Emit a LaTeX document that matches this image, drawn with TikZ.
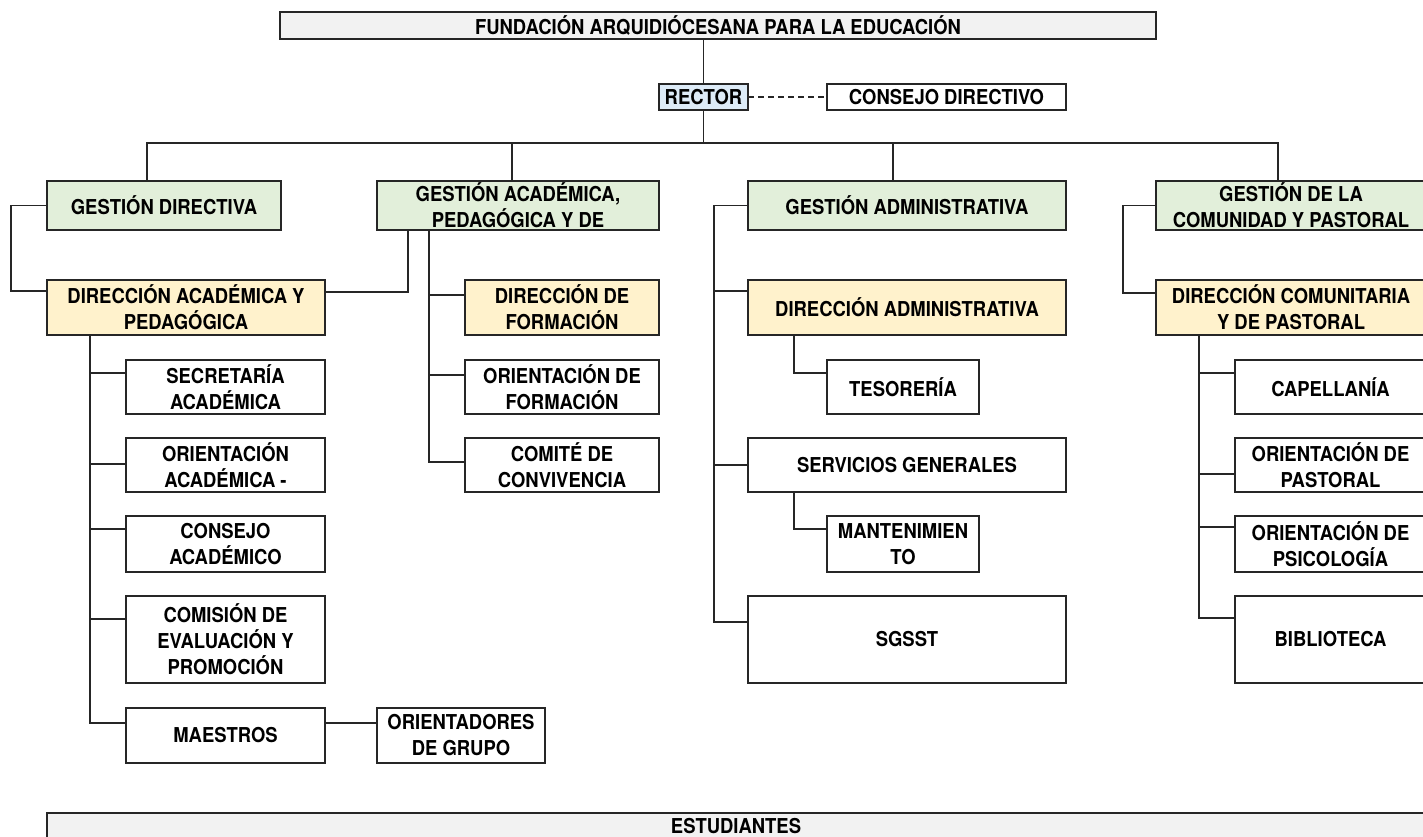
\documentclass[tikz,border=0pt]{standalone}
\usepackage{fontspec}
\setmainfont{TeX Gyre Heros}[FakeStretch=0.9]
\usepackage{xcolor}
\usepackage{tikz}
\usetikzlibrary{positioning}

\definecolor{borde}{HTML}{262626}
\definecolor{gris}{HTML}{F2F2F2}
\definecolor{azul}{HTML}{DDEBF7}
\definecolor{verde}{HTML}{E2EFDA}
\definecolor{amarillo}{HTML}{FFF2CC}

\begin{document}
\begin{tikzpicture}[
        x=1pt, y=-1pt,
        every node/.style={draw=borde, line width=1.3pt, fill=white, inner sep=0pt, outer sep=0pt,
            anchor=north west, align=center, font=\fontsize{20.5}{26}\selectfont\bfseries},
        caja/.style 2 args={minimum width=#1pt, minimum height=#2pt},
        linea/.style={draw=borde, line width=1.1pt}
    ]
    \useasboundingbox (0,0) rectangle (1423,836);
    \clip (0,0) rectangle (1423,836);

    % Cabecera
    \node[caja={876}{27}, fill=gris] (fund) at (280,12) {FUNDACIÓN ARQUIDIÓCESANA PARA LA EDUCACIÓN};
    \node[caja={89}{26}, fill=azul] (rector) at (659,84) {RECTOR};
    \node[caja={239}{26}] (consejo) at (827,84) {CONSEJO DIRECTIVO};

    % Gestiones
    \node[caja={234}{49}, fill=verde] (gd) at (47,181) {GESTIÓN DIRECTIVA};
    \node[caja={282}{49}, fill=verde] (gap) at (377,181) {GESTIÓN ACADÉMICA,\\PEDAGÓGICA Y DE};
    \node[caja={318}{49}, fill=verde] (ga) at (748,181) {GESTIÓN ADMINISTRATIVA};
    \node[caja={270}{49}, fill=verde] (gcp) at (1156,181) {GESTIÓN DE LA\\COMUNIDAD Y PASTORAL};

    % Direcciones
    \node[caja={278}{55}, fill=amarillo] (dap) at (47,280) {DIRECCIÓN ACADÉMICA Y\\PEDAGÓGICA};
    \node[caja={194}{55}, fill=amarillo] (df) at (465,280) {DIRECCIÓN DE\\FORMACIÓN};
    \node[caja={318}{55}, fill=amarillo] (da) at (748,280) {DIRECCIÓN ADMINISTRATIVA};
    \node[caja={270}{55}, fill=amarillo] (dcp) at (1156,280) {DIRECCIÓN COMUNITARIA\\Y DE PASTORAL};

    % Dependencias academicas
    \node[caja={199}{54}] (sa) at (126,360) {SECRETARÍA\\ACADÉMICA};
    \node[caja={199}{54}] (oa) at (126,438) {ORIENTACIÓN\\ACADÉMICA -};
    \node[caja={199}{56}] (ca) at (126,516) {CONSEJO\\ACADÉMICO};
    \node[caja={199}{87}] (cep) at (126,596) {COMISIÓN DE\\EVALUACIÓN Y\\PROMOCIÓN};
    \node[caja={199}{55}] (mae) at (126,708) {MAESTROS};
    \node[caja={168}{55}] (og) at (377,708) {ORIENTADORES\\DE GRUPO};

    % Dependencias de formacion
    \node[caja={194}{54}] (odf) at (465,360) {ORIENTACIÓN DE\\FORMACIÓN};
    \node[caja={194}{54}] (cc) at (465,438) {COMITÉ DE\\CONVIVENCIA};

    % Dependencias administrativas
    \node[caja={152}{54}] (tes) at (827,360) {TESORERÍA};
    \node[caja={318}{54}] (sg) at (748,438) {SERVICIOS GENERALES};
    \node[caja={152}{56}] (man) at (827,516) {MANTENIMIEN\\TO};
    \node[caja={318}{87}] (sgsst) at (748,596) {SGSST};

    % Dependencias de pastoral
    \node[caja={191}{54}] (cap) at (1235,360) {CAPELLANÍA};
    \node[caja={191}{54}] (op) at (1235,438) {ORIENTACIÓN DE\\PASTORAL};
    \node[caja={191}{56}] (ops) at (1235,516) {ORIENTACIÓN DE\\PSICOLOGÍA};
    \node[caja={191}{87}] (bib) at (1235,596) {BIBLIOTECA};

    % Base
    \node[caja={1378}{27}, fill=gris] (est) at (47,813) {ESTUDIANTES};

    % Lineas de mando
    \draw[linea] (rector.north) -- (rector.north |- fund.south);
    \draw[linea, dash pattern=on 6pt off 4pt] (rector.east) -- (consejo.west);
    \draw[linea] (rector.south) -- ++(0,33) coordinate (barra);
    \draw[linea] (barra) -| ([xshift=100pt]gd.north west);
    \draw[linea] (barra) -| ([xshift=135pt]gap.north west);
    \draw[linea] (barra) -| ([xshift=145pt]ga.north west);
    \draw[linea] (barra) -| ([xshift=122pt]gcp.north west);

    % Gestion directiva y academica
    \draw[linea] (gd.west) -- ++(-36,0) |- ([yshift=-11pt]dap.north west);
    \draw[linea] ([xshift=31pt]gap.south west) |- ([yshift=-12pt]dap.north east);
    \draw[linea] ([xshift=52pt]gap.south west) |- ([yshift=-15pt]df.north west);
    \draw[linea] ([xshift=52pt]gap.south west) |- ([yshift=-15pt]odf.north west);
    \draw[linea] ([xshift=52pt]gap.south west) |- ([yshift=-24pt]cc.north west);

    % Direccion academica
    \draw[linea] ([xshift=43pt]dap.south west) |- ([yshift=-13pt]sa.north west);
    \draw[linea] ([xshift=43pt]dap.south west) |- ([yshift=-26pt]oa.north west);
    \draw[linea] ([xshift=43pt]dap.south west) |- ([yshift=-13pt]ca.north west);
    \draw[linea] ([xshift=43pt]dap.south west) |- ([yshift=-23pt]cep.north west);
    \draw[linea] ([xshift=43pt]dap.south west) |- ([yshift=-15pt]mae.north west);
    \draw[linea] ([yshift=-15pt]mae.north east) -- ([yshift=-15pt]og.north west);

    % Gestion administrativa
    \draw[linea] (ga.west) -- ++(-34,0) coordinate (troncoga) |- ([yshift=-11pt]da.north west);
    \draw[linea] (troncoga) |- (sg.west);
    \draw[linea] (troncoga) |- ([yshift=-26pt]sgsst.north west);
    \draw[linea] ([xshift=46pt]da.south west) |- ([yshift=-13pt]tes.north west);
    \draw[linea] ([xshift=46pt]sg.south west) |- ([yshift=-13pt]man.north west);

    % Gestion de la comunidad
    \draw[linea] (gcp.west) -- ++(-33,0) |- ([yshift=-13pt]dcp.north west);
    \draw[linea] ([xshift=43pt]dcp.south west) |- ([yshift=-13pt]cap.north west);
    \draw[linea] ([xshift=43pt]dcp.south west) |- ([yshift=-36pt]op.north west);
    \draw[linea] ([xshift=43pt]dcp.south west) |- ([yshift=-11pt]ops.north west);
    \draw[linea] ([xshift=43pt]dcp.south west) |- ([yshift=-22pt]bib.north west);

\end{tikzpicture}
\end{document}
